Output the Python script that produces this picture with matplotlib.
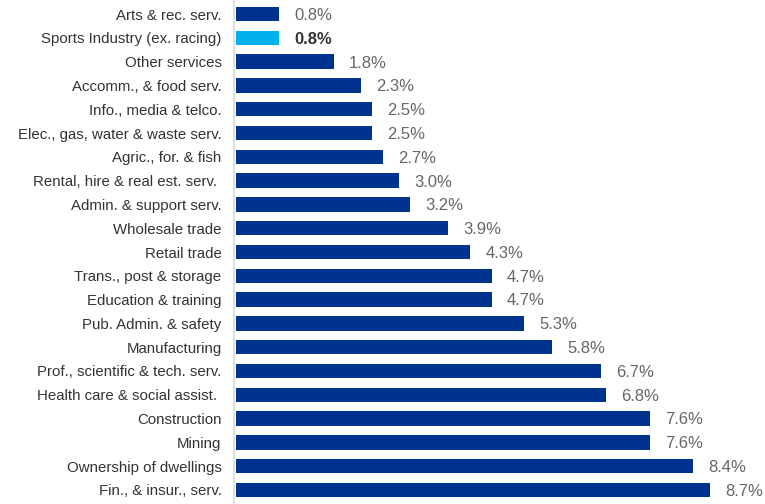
import matplotlib.pyplot as plt
import numpy as np

plt.rcParams['font.family'] = ['Liberation Sans', 'DejaVu Sans']

labels = ['Arts & rec. serv.', 'Sports Industry (ex. racing)', 'Other services',
          'Accomm., & food serv.', 'Info., media & telco.', 'Elec., gas, water & waste serv.',
          'Agric., for. & fish', 'Rental, hire & real est. serv. ', 'Admin. & support serv.',
          'Wholesale trade', 'Retail trade', 'Trans., post & storage', 'Education & training',
          'Pub. Admin. & safety', 'Manufacturing', 'Prof., scientific & tech. serv.',
          'Health care & social assist. ', 'Construction', 'Mining', 'Ownership of dwellings',
          'Fin., & insur., serv.']
values = [0.8, 0.8, 1.8, 2.3, 2.5, 2.5, 2.7, 3.0, 3.2, 3.9, 4.3, 4.7, 4.7, 5.3, 5.8,
          6.7, 6.8, 7.6, 7.6, 8.4, 8.7]
highlight = 'Sports Industry (ex. racing)'

navy = '#00338D'
light = '#00B1EB'
colors = [light if l == highlight else navy for l in labels]

fig = plt.figure(figsize=(7.65, 5.04), dpi=100)
ax = fig.add_axes([234 / 765, 0, 531 / 765, 1])

y = np.arange(len(labels))
bars = ax.barh(y, values, height=0.6, color=colors, left=0.03)

ax.set_ylim(20.59, -0.59)
ax.set_xlim(0, 531 / 54.5)
ax.set_yticks(y)
ax.set_yticklabels(labels, fontsize=10.8, color='#333333')
ax.tick_params(axis='y', length=0, pad=9)
ax.set_xticks([])
for s in ['top', 'right', 'bottom']:
    ax.spines[s].set_visible(False)
ax.spines['left'].set_color('#d9d9d9')
ax.spines['left'].set_linewidth(1.2)

for rect, v, l in zip(bars, values, labels):
    ax.annotate('{:.1f}%'.format(v),
                xy=(rect.get_x() + rect.get_width(), rect.get_y() + rect.get_height() / 2),
                xytext=(11, -1), textcoords='offset points',
                ha='left', va='center', fontsize=12,
                color='#333333' if l == highlight else '#666666',
                fontweight='bold' if l == highlight else 'normal')

plt.savefig('out.png', dpi=100)
